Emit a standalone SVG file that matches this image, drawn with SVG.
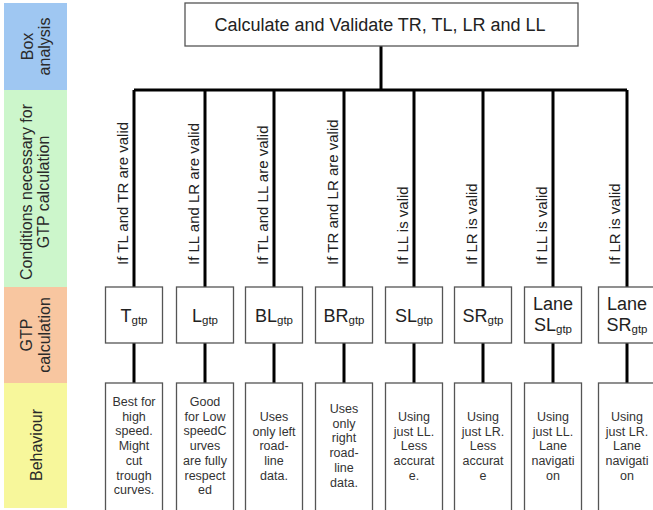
<svg xmlns="http://www.w3.org/2000/svg" width="653" height="510" viewBox="0 0 653 510">
  <style>
    text { font-family: "Liberation Sans", Arial, sans-serif; fill: #222; }
    .band-label { font-size: 16px; text-anchor: middle; fill: #2a2a2a; }
    .box { fill: #fff; stroke: #555; stroke-width: 1.3; }
    .title { font-size: 18px; text-anchor: middle; }
    .cond { font-size: 15px; }
    .gtp { font-size: 18px; text-anchor: middle; }
    .sub { font-size: 11.5px; }
    .beh { font-size: 12.5px; text-anchor: middle; fill: #333; }
    .conn { stroke: #000; stroke-width: 3; fill: none; }
  </style>

  <!-- row bands on the left -->
  <g id="bands">
    <rect x="4" y="3" width="63" height="87" fill="#9fc7f2"/>
    <rect x="4" y="90" width="63" height="197" fill="#ccf6cb"/>
    <rect x="4" y="287" width="63" height="96" fill="#f8c6a0"/>
    <rect x="4" y="383" width="63" height="125" fill="#f7f79b"/>
    <text class="band-label" transform="translate(33,46.5) rotate(-90)">Box</text>
    <text class="band-label" transform="translate(50,46.5) rotate(-90)">analysis</text>
    <text class="band-label" transform="translate(32,192) rotate(-90)">Conditions necessary for</text>
    <text class="band-label" transform="translate(49,192) rotate(-90)">GTP calculation</text>
    <text class="band-label" transform="translate(32,335) rotate(-90)">GTP</text>
    <text class="band-label" transform="translate(50,335) rotate(-90)">calculation</text>
    <text class="band-label" transform="translate(42,445) rotate(-90)">Behaviour</text>
  </g>

  <!-- connectors -->
  <g id="connectors" class="conn">
    <path d="M381 46V90M134 90H627"/>
    <path d="M134 90V287M205 90V287M274 90V287M344 90V287M414 90V287M483 90V287M553 90V287M627 90V287"/>
    <path d="M134 343V383M205 343V383M274 343V383M344 343V383M414 343V383M483 343V383M553 343V383M627 343V383"/>
  </g>

  <!-- root -->
  <g id="root">
    <rect class="box" x="185" y="3" width="393" height="43"/>
    <text class="title" x="380" y="31">Calculate and Validate TR, TL, LR and LL</text>
  </g>

  <!-- conditions -->
  <g id="conditions">
    <text class="cond" transform="translate(128,265) rotate(-90)">If TL and TR are valid</text>
    <text class="cond" transform="translate(199,265) rotate(-90)">If LL and LR are valid</text>
    <text class="cond" transform="translate(268,265) rotate(-90)">If TL and LL are valid</text>
    <text class="cond" transform="translate(338,265) rotate(-90)">If TR and LR are valid</text>
    <text class="cond" transform="translate(408,265) rotate(-90)">If LL is valid</text>
    <text class="cond" transform="translate(477,265) rotate(-90)">If LR is valid</text>
    <text class="cond" transform="translate(547,265) rotate(-90)">If LL is valid</text>
    <text class="cond" transform="translate(620,265) rotate(-90)">If LR is valid</text>
  </g>

  <!-- GTP calculation nodes -->
  <g id="gtp-t">
    <rect class="box" x="105.5" y="287" width="57" height="56"/>
    <text class="gtp" x="134" y="322">T<tspan class="sub" dy="2">gtp</tspan></text>
  </g>
  <g id="gtp-l">
    <rect class="box" x="176.5" y="287" width="57" height="56"/>
    <text class="gtp" x="205" y="322">L<tspan class="sub" dy="2">gtp</tspan></text>
  </g>
  <g id="gtp-bl">
    <rect class="box" x="245.5" y="287" width="57" height="56"/>
    <text class="gtp" x="274" y="322">BL<tspan class="sub" dy="2">gtp</tspan></text>
  </g>
  <g id="gtp-br">
    <rect class="box" x="315.5" y="287" width="57" height="56"/>
    <text class="gtp" x="344" y="322">BR<tspan class="sub" dy="2">gtp</tspan></text>
  </g>
  <g id="gtp-sl">
    <rect class="box" x="385.5" y="287" width="57" height="56"/>
    <text class="gtp" x="414" y="322">SL<tspan class="sub" dy="2">gtp</tspan></text>
  </g>
  <g id="gtp-sr">
    <rect class="box" x="454.5" y="287" width="57" height="56"/>
    <text class="gtp" x="483" y="322">SR<tspan class="sub" dy="2">gtp</tspan></text>
  </g>
  <g id="gtp-lane-sl">
    <rect class="box" x="524.5" y="287" width="57" height="56"/>
    <text class="gtp" x="553" y="310">Lane</text>
    <text class="gtp" x="553" y="331">SL<tspan class="sub" dy="2">gtp</tspan></text>
  </g>
  <g id="gtp-lane-sr">
    <rect class="box" x="598.5" y="287" width="57" height="56"/>
    <text class="gtp" x="627" y="310">Lane</text>
    <text class="gtp" x="627" y="331">SR<tspan class="sub" dy="2">gtp</tspan></text>
  </g>

  <!-- behaviour nodes -->
  <g id="beh-t">
    <rect class="box" x="105.5" y="383" width="57" height="130"/>
    <text class="beh" x="134" y="406">Best for<tspan x="134" dy="14.7">high</tspan><tspan x="134" dy="14.7">speed.</tspan><tspan x="134" dy="14.7">Might</tspan><tspan x="134" dy="14.7">cut</tspan><tspan x="134" dy="14.7">trough</tspan><tspan x="134" dy="14.7">curves.</tspan></text>
  </g>
  <g id="beh-l">
    <rect class="box" x="176.5" y="383" width="57" height="130"/>
    <text class="beh" x="205" y="406">Good<tspan x="205" dy="14.7">for Low</tspan><tspan x="205" dy="14.7">speedC</tspan><tspan x="205" dy="14.7">urves</tspan><tspan x="205" dy="14.7">are fully</tspan><tspan x="205" dy="14.7">respect</tspan><tspan x="205" dy="14.7">ed</tspan></text>
  </g>
  <g id="beh-bl">
    <rect class="box" x="245.5" y="383" width="57" height="130"/>
    <text class="beh" x="274" y="421">Uses<tspan x="274" dy="14.7">only left</tspan><tspan x="274" dy="14.7">road-</tspan><tspan x="274" dy="14.7">line</tspan><tspan x="274" dy="14.7">data.</tspan></text>
  </g>
  <g id="beh-br">
    <rect class="box" x="315.5" y="383" width="57" height="130"/>
    <text class="beh" x="344" y="413">Uses<tspan x="344" dy="14.7">only</tspan><tspan x="344" dy="14.7">right</tspan><tspan x="344" dy="14.7">road-</tspan><tspan x="344" dy="14.7">line</tspan><tspan x="344" dy="14.7">data.</tspan></text>
  </g>
  <g id="beh-sl">
    <rect class="box" x="385.5" y="383" width="57" height="130"/>
    <text class="beh" x="414" y="421">Using<tspan x="414" dy="14.7">just LL.</tspan><tspan x="414" dy="14.7">Less</tspan><tspan x="414" dy="14.7">accurat</tspan><tspan x="414" dy="14.7">e.</tspan></text>
  </g>
  <g id="beh-sr">
    <rect class="box" x="454.5" y="383" width="57" height="130"/>
    <text class="beh" x="483" y="421">Using<tspan x="483" dy="14.7">just LR.</tspan><tspan x="483" dy="14.7">Less</tspan><tspan x="483" dy="14.7">accurat</tspan><tspan x="483" dy="14.7">e</tspan></text>
  </g>
  <g id="beh-lane-sl">
    <rect class="box" x="524.5" y="383" width="57" height="130"/>
    <text class="beh" x="553" y="421">Using<tspan x="553" dy="14.7">just LL.</tspan><tspan x="553" dy="14.7">Lane</tspan><tspan x="553" dy="14.7">navigati</tspan><tspan x="553" dy="14.7">on</tspan></text>
  </g>
  <g id="beh-lane-sr">
    <rect class="box" x="598.5" y="383" width="57" height="130"/>
    <text class="beh" x="627" y="421">Using<tspan x="627" dy="14.7">just LR.</tspan><tspan x="627" dy="14.7">Lane</tspan><tspan x="627" dy="14.7">navigati</tspan><tspan x="627" dy="14.7">on</tspan></text>
  </g>
</svg>
